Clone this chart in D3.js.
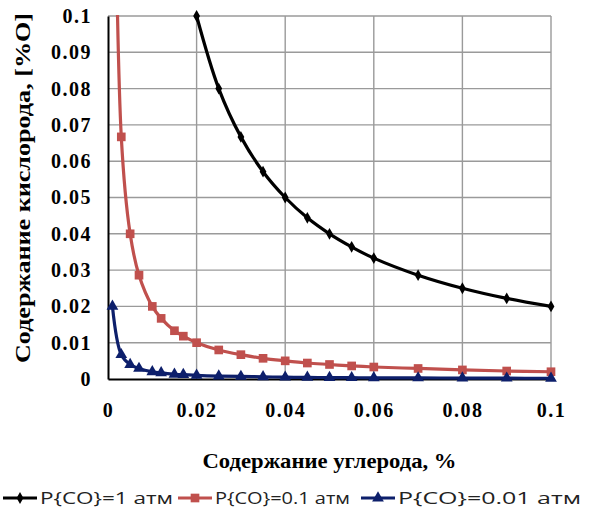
<!DOCTYPE html>
<head>
  <meta charset="utf-8">
  <script src="https://d3js.org/d3.v7.min.js"></script>
  <style type="text/css">
    body { margin: 0; background: #fff; }
    svg { display: block; }
    .tick text { font-family: "Liberation Serif", serif; font-weight: bold; font-size: 20px; fill: #000; letter-spacing: 1.5px; }
    .grid line { stroke: #9a9a9a; stroke-width: 1.4; }
    .title { font-family: "Liberation Serif", serif; font-weight: bold; font-size: 22px; fill: #000; }
    .legend text { font-family: "Open Sans", sans-serif; font-size: 16px; fill: #222; }
  </style>
</head>

<body>
  <script type="text/javascript">
    // carbon content, %
    var xBlack = [0.02, 0.025, 0.03, 0.035, 0.04, 0.045, 0.05, 0.055, 0.06, 0.07, 0.08, 0.09, 0.1];
    var yBlack = [0.1, 0.08, 0.0667, 0.0571, 0.05, 0.0444, 0.04, 0.0364, 0.0333, 0.0286, 0.025, 0.0222, 0.02];

    var xLow = [0.001, 0.003, 0.005, 0.007, 0.01, 0.012, 0.015, 0.017, 0.02, 0.025, 0.03, 0.035, 0.04, 0.045, 0.05, 0.055, 0.06, 0.07, 0.08, 0.09, 0.1];
    var yRed = [0.2, 0.0667, 0.04, 0.0286, 0.02, 0.0167, 0.0133, 0.0118, 0.01, 0.008, 0.0067, 0.0057, 0.005, 0.0044, 0.004, 0.0036, 0.0033, 0.0029, 0.0025, 0.0022, 0.002];
    var yBlue = [0.02, 0.0067, 0.004, 0.0029, 0.002, 0.0017, 0.0013, 0.0012, 0.001, 0.0008, 0.0007, 0.0006, 0.0005, 0.00044, 0.0004, 0.00036, 0.00033, 0.00029, 0.00025, 0.00022, 0.0002];

    var seriesNames = ["P{CO}=1 атм", "P{CO}=0.1 атм", "P{CO}=0.01 атм"];
    var seriesColors = ["#000000", "#c0504d", "#0d1f6b"];
    var seriesSymbols = [d3.symbolDiamond, d3.symbolSquare, d3.symbolTriangle];
    var symbolSizes = [40, 75, 60];

    var xTicks = [0, 0.02, 0.04, 0.06, 0.08, 0.1];
    var yTicks = [0, 0.01, 0.02, 0.03, 0.04, 0.05, 0.06, 0.07, 0.08, 0.09, 0.1];

    var xTitle = "Содержание углерода, %";
    var yTitle = "Содержание кислорода, [%O]";

    var margin = { top: 16, right: 39, bottom: 141, left: 108 },
        width = 590 - margin.left - margin.right,
        height = 520 - margin.top - margin.bottom;

    var series = [
      d3.zip(xBlack, yBlack),
      d3.zip(xLow, yRed),
      d3.zip(xLow, yBlue)
    ];

    var svg = d3.select("body").append("svg")
        .attr("width", 590)
        .attr("height", 520);

    var g = svg.append("g")
        .attr("transform", "translate(" + [margin.left, margin.top] + ")");

    var xScale = d3.scaleLinear().domain([0, 0.1]).range([0, width]);
    var yScale = d3.scaleLinear().domain([0, 0.1]).range([height, 0]);

    // grid
    g.append("g").attr("class", "grid")
      .selectAll("line.h").data(yTicks.slice(1)).enter().append("line")
      .attr("x1", 0).attr("x2", width)
      .attr("y1", function(d) { return yScale(d); })
      .attr("y2", function(d) { return yScale(d); });
    g.append("g").attr("class", "grid")
      .selectAll("line.v").data(xTicks.slice(1)).enter().append("line")
      .attr("y1", 0).attr("y2", height)
      .attr("x1", function(d) { return xScale(d); })
      .attr("x2", function(d) { return xScale(d); });

    // axes
    var fmt = function(d) { return d === 0 ? "0" : String(+d.toFixed(2)); };
    var xAxis = d3.axisBottom(xScale).tickValues(xTicks).tickSize(0).tickPadding(24).tickFormat(fmt);
    var yAxis = d3.axisLeft(yScale).tickValues(yTicks).tickSize(0).tickPadding(16).tickFormat(fmt);

    g.append("g").attr("class", "x--axis")
      .attr("transform", "translate(0," + height + ")")
      .call(xAxis)
      .call(function(s) { s.select(".domain").attr("stroke", "#000").attr("stroke-width", 2); });
    g.append("g").attr("class", "y--axis")
      .call(yAxis)
      .call(function(s) { s.select(".domain").attr("stroke", "#000").attr("stroke-width", 2); });

    // clip
    svg.append("defs").append("clipPath").attr("id", "plotclip")
      .append("rect").attr("x", -2).attr("y", -1).attr("width", width + 4).attr("height", height + 2);

    var line = d3.line()
      .x(function(d) { return xScale(d[0]); })
      .y(function(d) { return yScale(d[1]); })
      .curve(d3.curveCatmullRom.alpha(0.5));

    var plot = g.append("g").attr("clip-path", "url(#plotclip)");

    series.forEach(function(data, i) {
      plot.append("path")
        .datum(data)
        .attr("fill", "none")
        .attr("stroke", seriesColors[i])
        .attr("stroke-width", 3.2)
        .attr("d", line);
    });

    // markers, only inside the plotted range
    series.forEach(function(data, i) {
      g.append("g").selectAll("path")
        .data(data.filter(function(d) { return d[1] <= 0.1; }))
        .enter().append("path")
        .attr("d", d3.symbol().type(seriesSymbols[i]).size(symbolSizes[i]))
        .attr("fill", seriesColors[i])
        .attr("transform", function(d) { return "translate(" + xScale(d[0]) + "," + yScale(d[1]) + ")"; });
    });

    // titles
    svg.append("text").attr("class", "title")
      .attr("x", margin.left + width / 2).attr("y", 468)
      .attr("text-anchor", "middle")
      .attr("textLength", 254).attr("lengthAdjust", "spacingAndGlyphs")
      .text(xTitle);
    svg.append("text").attr("class", "title")
      .attr("transform", "translate(30,188) rotate(-90)")
      .attr("text-anchor", "middle")
      .attr("textLength", 350).attr("lengthAdjust", "spacingAndGlyphs")
      .text(yTitle);

    // legend
    var legendX = [3, 178, 361];
    var textW = [136, 138, 186];
    var legend = svg.append("g").attr("class", "legend")
      .attr("transform", "translate(0,498)");
    seriesNames.forEach(function(name, i) {
      var item = legend.append("g").attr("transform", "translate(" + legendX[i] + ",0)");
      item.append("line").attr("x1", 0).attr("x2", 34).attr("y1", 0).attr("y2", 0)
        .attr("stroke", seriesColors[i]).attr("stroke-width", 3);
      item.append("path")
        .attr("d", d3.symbol().type(seriesSymbols[i]).size(symbolSizes[i]))
        .attr("fill", seriesColors[i])
        .attr("transform", "translate(17,0)");
      item.append("text").attr("x", 37).attr("y", 6)
        .attr("textLength", textW[i] - 3).attr("lengthAdjust", "spacingAndGlyphs")
        .text(name);
    });
  </script>
</body>
